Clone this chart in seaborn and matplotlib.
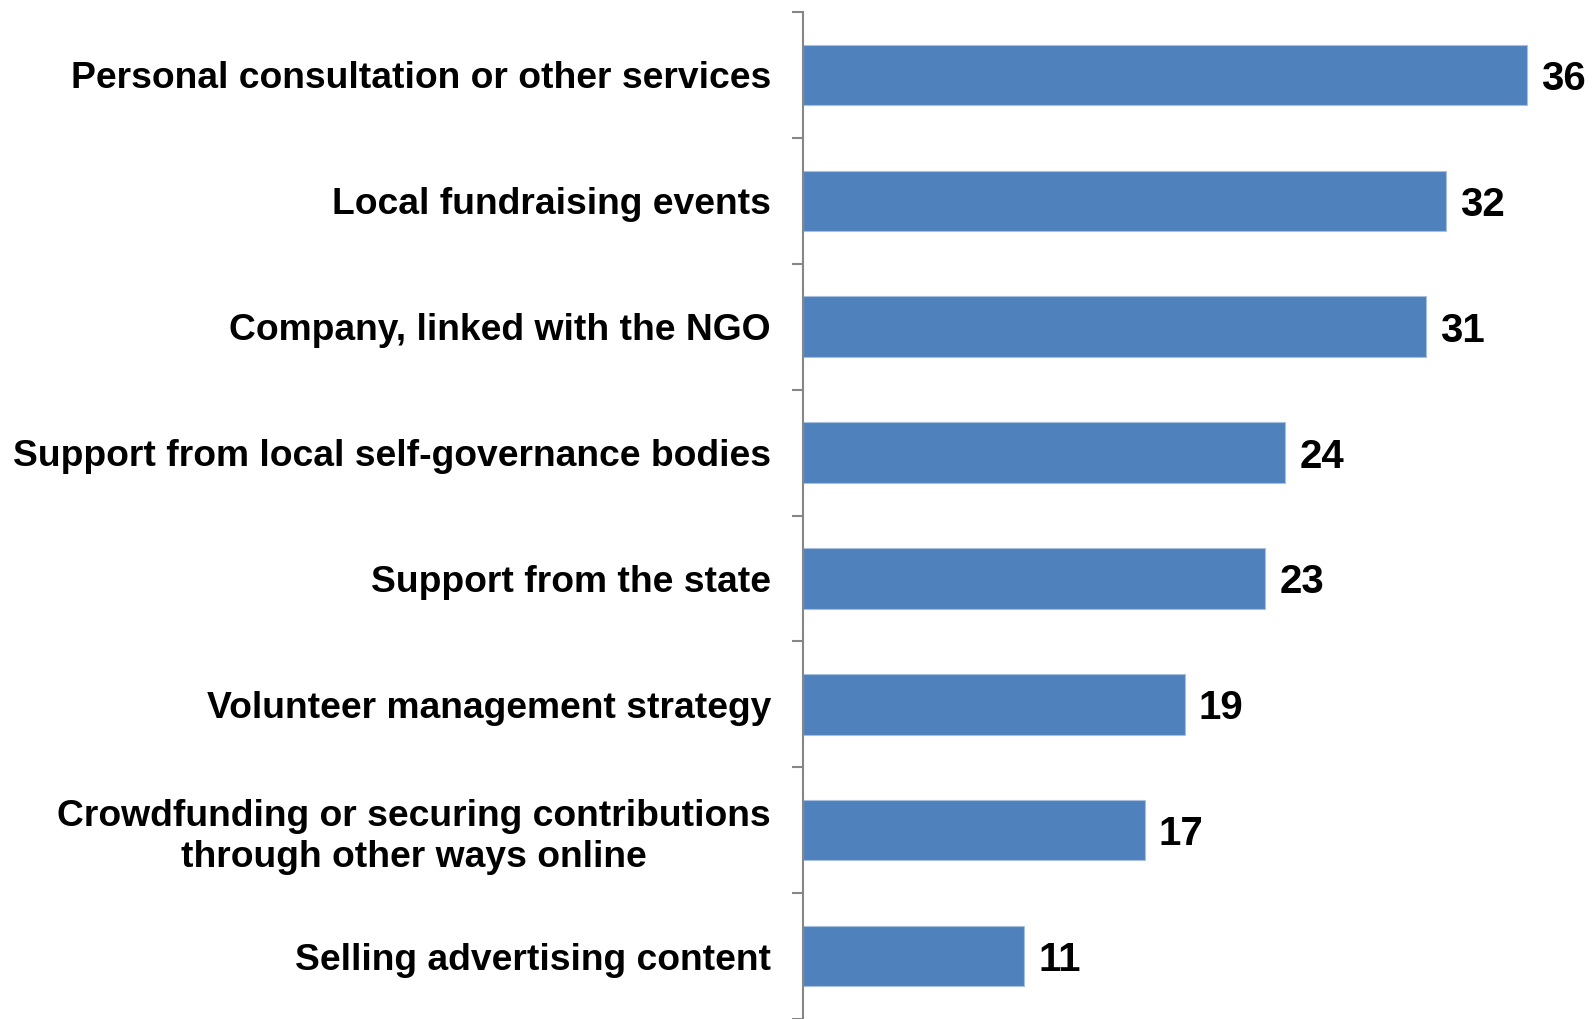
import matplotlib
matplotlib.use("Agg")
import matplotlib.pyplot as plt
import seaborn as sns
import pandas as pd
import numpy as np

categories = [
    "Personal consultation or other services",
    "Local fundraising events",
    "Company, linked with the NGO",
    "Support from local self-governance bodies",
    "Support from the state",
    "Volunteer management strategy",
    "Crowdfunding or securing contributions\nthrough other ways online",
    "Selling advertising content",
]
values = [36, 32, 31, 24, 23, 19, 17, 11]

sns.set_theme(style="white")
plt.rcParams["font.family"] = ["Liberation Sans", "DejaVu Sans"]

df = pd.DataFrame({"category": categories, "value": values})

fig = plt.figure(figsize=(15.93, 10.19), dpi=100)
ax = fig.add_axes([803 / 1593, 0.0, 1 - 803 / 1593, 1 - 12 / 1019])

sns.barplot(data=df, y="category", x="value", orient="h", color="#4F81BD",
            saturation=1, width=0.48, edgecolor="#A7C0DE", linewidth=0.8, ax=ax)

ax.set_xlim(0, 39.3)
ax.set_ylim(len(categories) - 0.5, -0.5)
ax.set_xlabel("")
ax.set_ylabel("")
ax.set_xticks([])

for side in ["top", "right", "bottom"]:
    ax.spines[side].set_visible(False)
ax.spines["left"].set_color("#868686")
ax.spines["left"].set_linewidth(1.5)

# category labels without marks; separators between categories as minor ticks
ax.set_yticks(range(len(categories)))
ax.set_yticklabels(categories, fontsize=26.8, fontweight="bold", color="black",
                   multialignment="center", linespacing=1.22)
ax.tick_params(axis="y", which="major", length=0, pad=23)
ax.set_yticks(np.arange(-0.5, len(categories), 1.0), minor=True)
ax.tick_params(axis="y", which="minor", length=8, width=1.5, color="#868686", left=True)

for container in ax.containers:
    texts = ax.bar_label(container, labels=[str(v) for v in values], padding=10,
                         fontsize=29, fontweight="bold", color="black")
    for t in texts:
        t.set_verticalalignment("center_baseline")

fig.savefig("out.png", dpi=100, facecolor="white")
